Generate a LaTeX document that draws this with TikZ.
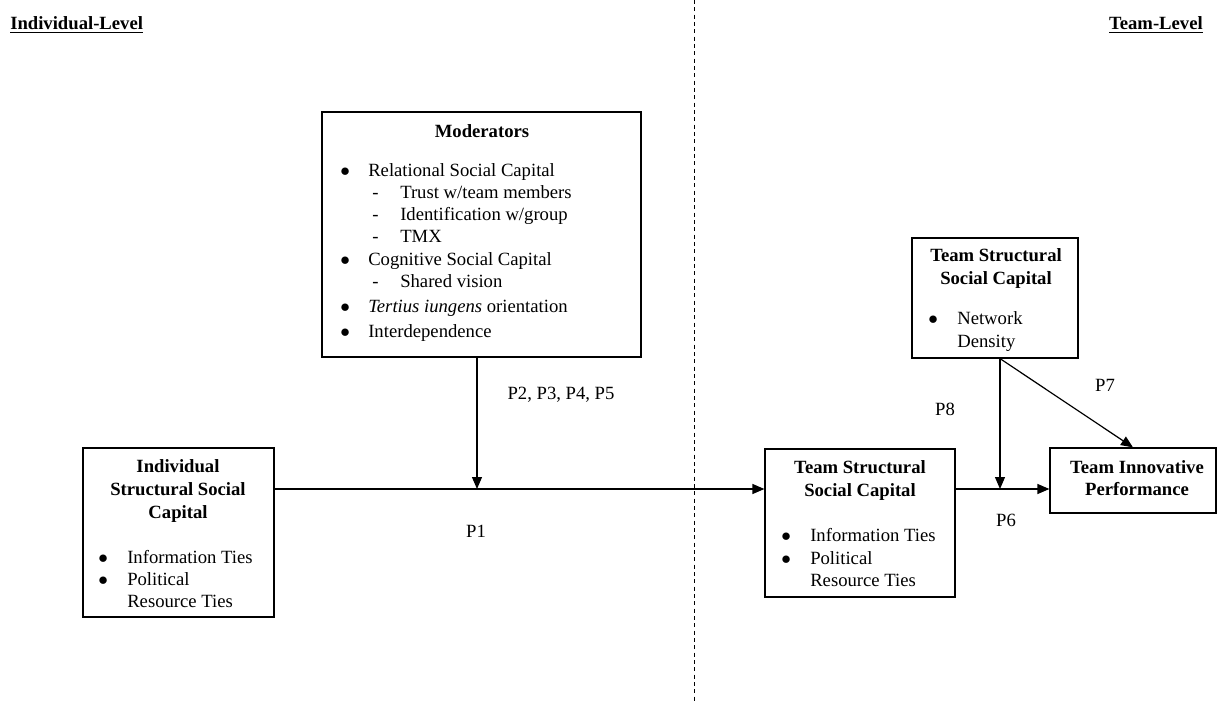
\documentclass[tikz,border=0pt]{standalone}
\usepackage{fontspec}
\setmainfont{Liberation Serif}
\usetikzlibrary{arrows.meta,fit}
\begin{document}
\begin{tikzpicture}[x=0.75pt,y=-0.75pt,
  font=\fontsize{14}{16.9}\selectfont,
  box/.style={draw,line width=0.9pt,inner sep=0pt},
  txt/.style={anchor=base west,inner sep=0pt},
  ttl/.style={anchor=base,inner sep=0pt,font=\fontsize{14}{16.9}\selectfont\bfseries},
  conn/.style={line width=0.9pt,-{Triangle[length=9pt,width=7.5pt]}},
  plab/.style={anchor=base,inner sep=0pt}]
\useasboundingbox (0,0) rectangle (1217,702);
% level headings
\node[txt,font=\fontsize{14}{16.9}\selectfont\bfseries] (hind) at (10,30) {\underline{Individual-Level}};
\node[anchor=base east,inner sep=0pt,font=\fontsize{14}{16.9}\selectfont\bfseries] (hteam) at (1203,30) {\underline{Team-Level}};
% dashed divider
\coordinate (dtop) at (694,0);
\coordinate (dbot) at (694,702);
\draw[line width=0.6pt,dash pattern=on 3pt off 2.5pt] (dtop) -- (dbot);
% boxes
\node[box,fit={(322,112) (641,357)}] (mod) {};
\node[box,fit={(83,448) (274,617)}] (ind) {};
\node[box,fit={(765,449) (955,597)}] (tssc) {};
\node[box,fit={(1050,448) (1216,513)}] (tip) {};
\node[box,fit={(912,238) (1078,358)}] (top) {};
% moderators text
\node[ttl] (modt) at (482,138) {Moderators};
\node[txt] (m1b) at (340,177) {$\bullet$};
\node[txt] (m1) at (368,177) {Relational Social Capital};
\node[txt] (m1ad) at (372,199) {-};
\node[txt] (m1a) at (400,199) {Trust w/team members};
\node[txt] (m1bd) at (372,221) {-};
\node[txt] (m1bb) at (400,221) {Identification w/group};
\node[txt] (m1cd) at (372,243) {-};
\node[txt] (m1c) at (400,243) {TMX};
\node[txt] (m2b) at (340,266) {$\bullet$};
\node[txt] (m2) at (368,266) {Cognitive Social Capital};
\node[txt] (m2ad) at (372,288) {-};
\node[txt] (m2a) at (400,288) {Shared vision};
\node[txt] (m3b) at (340,312) {$\bullet$};
\node[txt] (m3) at (368,312) {\textit{Tertius iungens} orientation};
\node[txt] (m4b) at (340,337) {$\bullet$};
\node[txt] (m4) at (368,337) {Interdependence};
% individual box text
\node[ttl] (it1) at (178,472) {Individual};
\node[ttl] (it2) at (178,495) {Structural Social};
\node[ttl] (it3) at (178,518) {Capital};
\node[txt] (i1b) at (98,563) {$\bullet$};
\node[txt] (i1) at (127,563) {Information Ties};
\node[txt] (i2b) at (98,585) {$\bullet$};
\node[txt] (i2) at (127,585) {Political};
\node[txt] (i3) at (127,607) {Resource Ties};
% team SSC box text
\node[ttl] (tt1) at (860,473) {Team Structural};
\node[ttl] (tt2) at (860,496) {Social Capital};
\node[txt] (t1b) at (781,541) {$\bullet$};
\node[txt] (t1) at (810,541) {Information Ties};
\node[txt] (t2b) at (781,564) {$\bullet$};
\node[txt] (t2) at (810,564) {Political};
\node[txt] (t3) at (810,586) {Resource Ties};
% team innovative performance
\node[ttl] (p1t) at (1137,473) {Team Innovative};
\node[ttl] (p2t) at (1137,495) {Performance};
% top team box
\node[ttl] (ot1) at (996,262) {Team Structural};
\node[ttl] (ot2) at (996,285) {Social Capital};
\node[txt] (o1b) at (928,325) {$\bullet$};
\node[txt] (o1) at (957,325) {Network};
\node[txt] (o2) at (957,347) {Density};
% connectors
\coordinate (j1) at (477,489);
\coordinate (j2) at (1000,489);
\draw[conn] (ind.east |- j1) -- (tssc.west |- j1);
\draw[conn] (j1 |- mod.south) -- (j1);
\draw[conn] (tssc.east |- j2) -- (tip.west |- j2);
\draw[conn] (j2 |- top.south) -- (j2);
\draw[conn] (j2 |- top.south) -- (tip.north);
% path labels
\node[plab] (lp25) at (561,399) {P2, P3, P4, P5};
\node[plab] (lp1) at (476,537) {P1};
\node[plab] (lp8) at (945,415) {P8};
\node[plab] (lp7) at (1105,391) {P7};
\node[plab] (lp6) at (1006,526) {P6};
\end{tikzpicture}
\end{document}
